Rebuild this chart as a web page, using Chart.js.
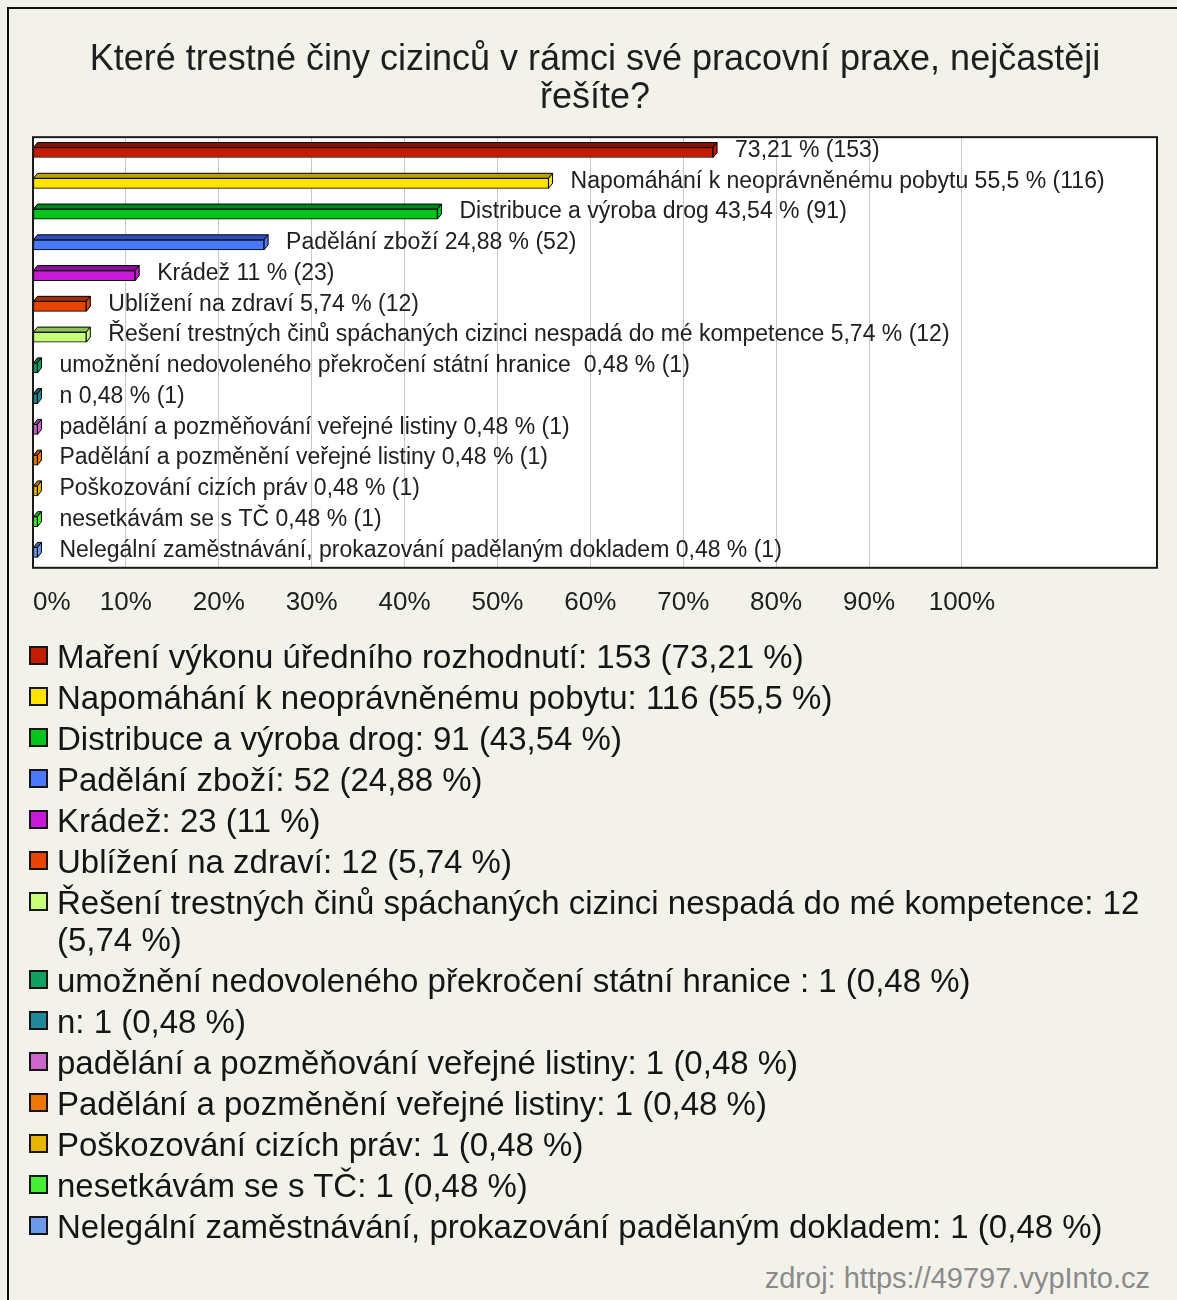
<!DOCTYPE html>
<html>
<head>
<meta charset="utf-8">
<script src="https://cdn.jsdelivr.net/npm/chart.js@4.4.1/dist/chart.umd.min.js"></script>
<style>
  html, body { margin: 0; padding: 0; background: #f3f2ea; }
  #wrap { position: relative; width: 1177px; height: 1300px; overflow: hidden; font-family: "Liberation Sans", Arial, sans-serif; }
  #frame { position: absolute; left: 7px; top: 7px; width: 1300px; height: 1400px; border-left: 2px solid #111; border-top: 2px solid #111; }
  #chartBox { position: absolute; left: 0; top: 0; width: 1177px; height: 640px; }
  #legend { position: absolute; left: 29px; top: 638px; width: 1127px; }
  .item { display: flex; align-items: flex-start; margin-bottom: 4px; }
  .sw { flex: none; width: 19px; height: 19px; box-sizing: border-box; border: 2px solid #151515; margin: 8px 9px 0 0; }
  .txt { font-size: 33px; line-height: 37px; color: #151515; }
  #source { position: absolute; right: 27px; top: 1262px; font-size: 29px; color: #8a8a8a; }
</style>
</head>
<body>
<div id="wrap">
  <div id="frame"></div>
  <div id="chartBox"><canvas id="chart"></canvas></div>
  <div id="legend"></div>
  <div id="source">zdroj: https://49797.vypInto.cz</div>
</div>
<script>
const titleLines = ['Které trestné činy cizinců v rámci své pracovní praxe, nejčastěji', 'řešíte?'];

const categories = [
    'Maření výkonu úředního rozhodnutí',
    'Napomáhání k neoprávněnému pobytu',
    'Distribuce a výroba drog',
    'Padělání zboží',
    'Krádež',
    'Ublížení na zdraví',
    'Řešení trestných činů spáchaných cizinci nespadá do mé kompetence',
    'umožnění nedovoleného překročení státní hranice ',
    'n',
    'padělání a pozměňování veřejné listiny',
    'Padělání a pozměnění veřejné listiny',
    'Poškozování cizích práv',
    'nesetkávám se s TČ',
    'Nelegální zaměstnávání, prokazování padělaným dokladem'
];
const percents = [73.21, 55.5, 43.54, 24.88, 11, 5.74, 5.74, 0.48, 0.48, 0.48, 0.48, 0.48, 0.48, 0.48];
const counts = [153, 116, 91, 52, 23, 12, 12, 1, 1, 1, 1, 1, 1, 1];
const colors = ['#c41c00', '#ffe400', '#00c41a', '#4a78ff', '#c818d8', '#e64400', '#c8ff7a',
    '#10a062', '#208898', '#cc66cc', '#ee7700', '#e8b400', '#44ee33', '#6a9ae8'];
const topColors = ['#8a0f00', '#b8a100', '#00851a', '#2a4fc0', '#8a0e99', '#a02e00', '#8fc455',
    '#0a6a40', '#145a66', '#8a408a', '#a85200', '#a67f00', '#2aa622', '#4468a6'];
const xMax = 121;

const fmt = v => String(v).replace('.', ',');

// 3D bars + labels to the right of each bar
const barDecor = {
    id: 'barDecor',
    beforeDraw(chart) {
        const a = chart.chartArea;
        const ctx = chart.ctx;
        ctx.save();
        ctx.fillStyle = '#ffffff';
        ctx.fillRect(a.left, a.top, a.right - a.left, a.bottom - a.top);
        ctx.restore();
    },
    afterDatasetsDraw(chart) {
        const ctx = chart.ctx;
        const a = chart.chartArea;
        const meta = chart.getDatasetMeta(0);
        const dx = 4, dy = 5;
        ctx.save();
        meta.data.forEach((bar, i) => {
            const top = bar.y - bar.height / 2;
            const bottom = bar.y + bar.height / 2;
            const x0 = bar.base, x1 = bar.x;
            ctx.lineWidth = 1;
            ctx.strokeStyle = '#000';
            ctx.fillStyle = topColors[i];
            ctx.beginPath();
            ctx.moveTo(x0, top);
            ctx.lineTo(x0 + dx, top - dy);
            ctx.lineTo(x1 + dx, top - dy);
            ctx.lineTo(x1, top);
            ctx.closePath();
            ctx.fill();
            ctx.stroke();
            ctx.fillStyle = colors[i];
            ctx.beginPath();
            ctx.moveTo(x1, top);
            ctx.lineTo(x1 + dx, top - dy);
            ctx.lineTo(x1 + dx, bottom - dy);
            ctx.lineTo(x1, bottom);
            ctx.closePath();
            ctx.fill();
            ctx.stroke();

            ctx.font = '23px "Liberation Sans", Arial, sans-serif';
            ctx.fillStyle = '#202020';
            ctx.textBaseline = 'middle';
            const tx = x1 + dx + 18;
            const value = fmt(percents[i]) + ' % (' + counts[i] + ')';
            let text = categories[i] + ' ' + value;
            if (tx + ctx.measureText(text).width > a.right - 4) text = value;
            ctx.fillText(text, tx, bar.y - 2);
        });
        ctx.restore();
    },
    afterDraw(chart) {
        const a = chart.chartArea;
        const ctx = chart.ctx;
        ctx.save();
        ctx.strokeStyle = '#1a1a1a';
        ctx.lineWidth = 2;
        ctx.strokeRect(a.left, a.top, a.right - a.left, a.bottom - a.top);
        ctx.restore();
    }
};

new Chart(document.getElementById('chart'), {
    type: 'bar',
    data: {
        labels: categories,
        datasets: [{
            data: percents,
            backgroundColor: colors,
            borderColor: '#000',
            borderWidth: 1,
            borderSkipped: false,
            barThickness: 10
        }]
    },
    options: {
        indexAxis: 'y',
        responsive: true,
        maintainAspectRatio: false,
        animation: false,
        layout: { padding: { left: 33, right: 20, top: 0, bottom: 3 } },
        plugins: {
            legend: { display: false },
            tooltip: { enabled: false },
            title: {
                display: true,
                text: titleLines,
                color: '#1e1e1e',
                font: { family: '"Liberation Sans", Arial, sans-serif', size: 36, weight: 'normal', lineHeight: 1.03 },
                padding: { top: 42, bottom: 21 }
            }
        },
        scales: {
            x: {
                min: 0,
                max: xMax,
                border: { display: false },
                grid: {
                    drawTicks: false,
                    color: c => (c.tick && c.tick.value > 0 && c.tick.value <= 100) ? '#c8c8c8' : 'rgba(0,0,0,0)'
                },
                ticks: {
                    stepSize: 10,
                    align: 'inner',
                    padding: 19,
                    color: '#202020',
                    font: { family: '"Liberation Sans", Arial, sans-serif', size: 26 },
                    callback: v => v <= 100 ? v + '%' : ''
                }
            },
            y: {
                display: false,
                grid: { display: false }
            }
        }
    },
    plugins: [barDecor]
});

const legend = document.getElementById('legend');
categories.forEach((name, i) => {
    const item = document.createElement('div');
    item.className = 'item';
    const sw = document.createElement('div');
    sw.className = 'sw';
    sw.style.background = colors[i];
    const txt = document.createElement('div');
    txt.className = 'txt';
    txt.textContent = name + ': ' + counts[i] + ' (' + fmt(percents[i]) + ' %)';
    item.appendChild(sw);
    item.appendChild(txt);
    legend.appendChild(item);
});
</script>
</body>
</html>
